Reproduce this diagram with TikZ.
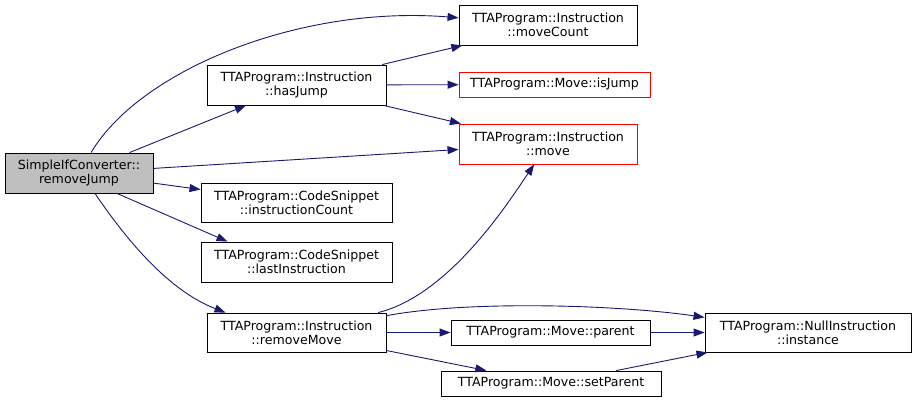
\documentclass[tikz,border=0pt]{standalone}
\usepackage{fontspec}
\setmainfont{DejaVu Sans}
\usetikzlibrary{arrows.meta}
\definecolor{edgeblue}{HTML}{191970}
\definecolor{fillgray}{HTML}{BFBFBF}
\begin{document}
\begin{tikzpicture}[x=1pt, y=-1pt,
        fn/.style={draw, line width=0.9pt, align=center, inner sep=0pt,
            font=\fontsize{12.6}{14}\selectfont},
        redfn/.style={fn, draw=red},
        >={Triangle[length=11pt, width=8pt]},
        every path/.append style={line width=0.9pt},
        link/.style={edgeblue}]
        \useasboundingbox (0,0) rectangle (916,402);
        % nodes
        \node [fn, fill=fillgray, minimum width=148pt, minimum height=40pt] (rj) at (79,173) {SimpleIfConverter::\\removeJump};
        \node [fn, minimum width=178pt, minimum height=40pt] (mc) at (548,25) {TTAProgram::Instruction\\::moveCount};
        \node [fn, minimum width=179pt, minimum height=40pt] (hj) at (296.5,85) {TTAProgram::Instruction\\::hasJump};
        \node [redfn, minimum width=191pt, minimum height=25pt] (ij) at (554.5,84.5) {TTAProgram::Move::isJump};
        \node [redfn, minimum width=178pt, minimum height=40pt] (mv) at (548,144) {TTAProgram::Instruction\\::move};
        \node [fn, minimum width=191pt, minimum height=39pt] (ic) at (296.5,202.5) {TTAProgram::CodeSnippet\\::instructionCount};
        \node [fn, minimum width=191pt, minimum height=40pt] (li) at (296.5,262) {TTAProgram::CodeSnippet\\::lastInstruction};
        \node [fn, minimum width=179pt, minimum height=39pt] (rm) at (296.5,332.5) {TTAProgram::Instruction\\::removeMove};
        \node [fn, minimum width=199pt, minimum height=25pt] (pa) at (550.5,332.5) {TTAProgram::Move::parent};
        \node [fn, minimum width=220pt, minimum height=25pt] (sp) at (551,383.5) {TTAProgram::Move::setParent};
        \node [fn, minimum width=206pt, minimum height=39pt] (ni) at (808,332.5) {TTAProgram::NullInstruction\\::instance};
        % calls from removeJump
        \draw [->, link] (rj) .. controls (140,70) and (300,5) .. (mc);
        \draw [->, link] (rj) -- (hj);
        \draw [->, link] (rj) -- (mv);
        \draw [->, link] (rj) -- (ic);
        \draw [->, link] ([xshift=38pt]rj.south) -- ([xshift=-69pt]li.north);
        \draw [->, link] ([xshift=16pt]rj.south) .. controls (140,260) and (180,295) .. ([xshift=-71pt]rm.north);
        % calls from hasJump
        \draw [->, link] (hj) -- (mc);
        \draw [->, link] (hj) -- (ij);
        \draw [->, link] (hj) -- (mv);
        % calls from removeMove
        \draw [->, link] (rm) .. controls (450,295) and (510,200) .. (mv);
        \draw [->, link] (rm) .. controls (470,300) and (620,305) .. (ni);
        \draw [->, link] (rm) -- (pa);
        \draw [->, link] (rm) -- (sp);
        \draw [->, link] (pa) -- (ni);
        \draw [->, link] (sp) -- (ni);
\end{tikzpicture}
\end{document}
